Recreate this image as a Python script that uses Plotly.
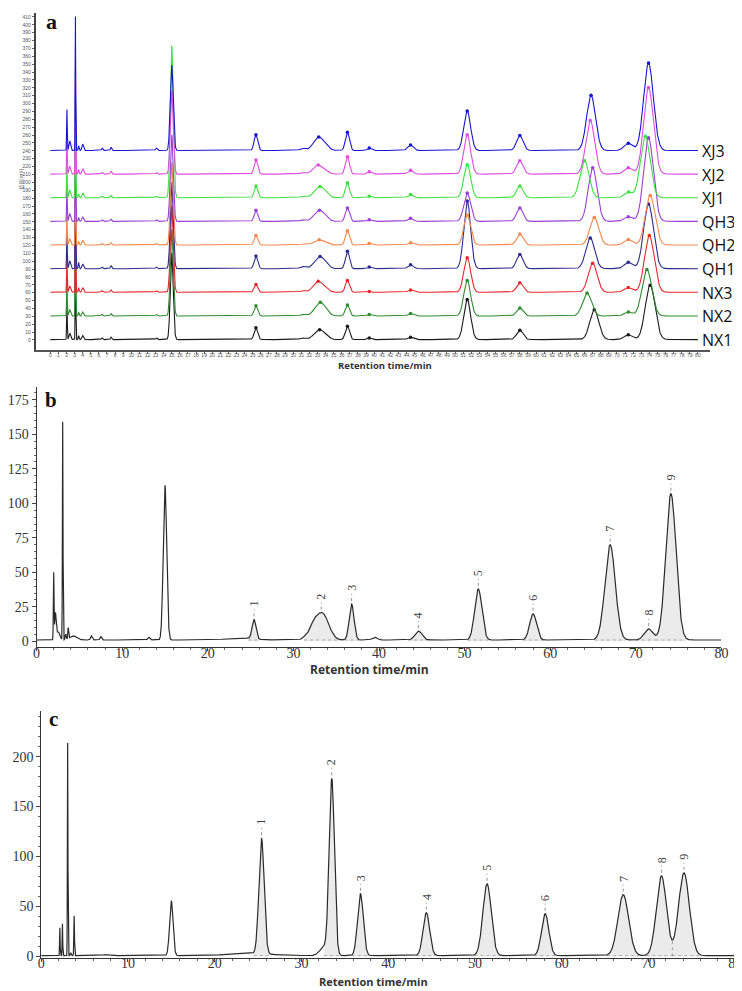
import numpy as np
import plotly.graph_objects as go

# ---------------- data ----------------
t_grid = np.round(np.arange(0, 80.0001, 0.01), 3)

# Panel a: stacked chromatograms (bottom -> top)
samples = ["NX1", "NX2", "NX3", "QH1", "QH2", "QH3", "XJ1", "XJ2", "XJ3"]
offsets = [0, 30, 60, 90, 120, 150, 180, 210, 240]
colors = ["#1a1a1a", "#2e8b2e", "#e8262a", "#2b2b8c", "#f4874b",
          "#9b3fd6", "#3ee03e", "#e04ae0", "#1515d0"]
a_rt = [2.05, 2.4, 3.1, 3.5, 4.0, 6.4, 7.5, 13.1, 15.0, 25.4, 31.2, 32.8,
        33.5, 36.7, 39.4, 44.5, 51.5, 58.0, 67.0, 71.4, 74.0]
a_wd = [0.04, 0.1, 0.03, 0.05, 0.1, 0.08, 0.08, 0.1, 0.18, 0.22, 0.35, 0.5,
        0.6, 0.25, 0.25, 0.33, 0.42, 0.4, 0.55, 0.5, 0.6]
h_NX1 = [45, 8, 160, 5, 5, 2, 3, 2, 110, 15, 2, 5, 10, 17, 2, 3, 51, 12, 38, 6, 69]
h_NX2 = [48, 8, 160, 5, 5, 2, 3, 2, 110, 13, 2, 5, 15, 14, 2, 3, 45, 10, 29, 5, 59]
h_NX3 = [45, 8, 160, 6, 6, 2, 3, 2, 110, 10, 2, 8, 9, 15, 1, 3, 44, 12, 37, 6, 72]
h_QH1 = [48, 10, 160, 8, 6, 2, 4, 2, 110, 16, 3, 5, 13, 22, 2, 5, 86, 18, 39, 8, 82]
h_QH2 = [45, 8, 160, 5, 6, 2, 3, 2, 105, 12, 1, 3, 5, 18, 2, 3, 38, 14, 35, 7, 63]
h_QH3 = [48, 10, 160, 5, 6, 2, 3, 2, 110, 14, 2, 6, 11, 17, 2, 4, 36, 17, 68, 6, 106]
h_XJ1 = [45, 10, 165, 5, 6, 2, 3, 2, 193, 15, 2, 5, 12, 19, 2, 4, 42, 15, 47, 7, 78]
h_XJ2 = [50, 10, 165, 6, 7, 2, 4, 2, 106, 18, 2, 7, 7, 22, 3, 5, 50, 17, 68, 8, 110]
h_XJ3 = [52, 12, 170, 6, 8, 3, 4, 3, 108, 20, 3, 9, 12, 23, 3, 7, 50, 19, 70, 9, 111]
a_heights = [h_NX1, h_NX2, h_NX3, h_QH1, h_QH2, h_QH3, h_XJ1, h_XJ2, h_XJ3]
rt_p7 = [67.2, 66.3, 67.0, 66.7, 67.2, 67.0, 66.0, 66.7, 66.8]
rt_p9 = [74.1, 73.7, 74.0, 73.9, 74.1, 73.9, 73.5, 73.9, 73.9]
a_marked = [9, 12, 13, 14, 15, 16, 17, 18, 19, 20]
a_xticks = list(range(0, 81))
a_yticks = list(range(0, 411, 10))

# Panel b
b_rt = [2.0, 2.2, 2.5, 3.05, 3.4, 3.7, 4.3, 6.4, 7.5, 13.1, 15.0, 25.4, 31.3,
        32.3, 33.4, 36.8, 39.5, 44.6, 51.6, 58.0, 67.0, 71.5, 74.1, 23.8]
b_ht = [48, 18, 6, 158, 4, 8, 3, 3, 2.5, 2, 112, 14, 1.5, 8, 19, 26, 2, 6.5,
        37, 19, 69, 8, 106, 1.5]
b_wd = [0.04, 0.08, 0.2, 0.035, 0.06, 0.05, 0.4, 0.1, 0.1, 0.12, 0.2, 0.22,
        0.3, 0.5, 0.72, 0.28, 0.3, 0.4, 0.42, 0.4, 0.6, 0.5, 0.6, 1.5]
b_labeled = [11, 14, 15, 17, 18, 19, 20, 21, 22]

# Panel c
c_rt = [2.15, 2.45, 3.05, 3.4, 3.8, 7.5, 15.0, 24.0, 25.4, 32.6, 33.5, 36.8,
        44.4, 51.4, 58.1, 67.1, 71.5, 74.1]
c_ht = [28, 32, 213, 3, 40, 1, 55, 2, 116, 8, 176, 62, 43, 72, 42, 61, 80, 83]
c_wd = [0.03, 0.03, 0.03, 0.05, 0.035, 0.4, 0.2, 2.5, 0.3, 0.5, 0.3, 0.33,
        0.38, 0.48, 0.42, 0.62, 0.58, 0.62]
c_labeled = [8, 10, 11, 12, 13, 14, 15, 16, 17]
peak_labels = ["1", "2", "3", "4", "5", "6", "7", "8", "9"]


def chrom(rts, hts, wds, base):
    y = np.full_like(t_grid, base, dtype=float)
    for r, h, w in zip(rts, hts, wds):
        y += h * np.exp(-0.5 * ((t_grid - r) / w) ** 2)
    return np.round(y, 3)


W, H = 742, 991


def px(x):
    return x / W


def py(y):
    return 1 - y / H


fig = go.Figure()
annotations = []
shapes = []

# ---------------- panel a ----------------
for k, name in enumerate(samples):
    rts = list(a_rt)
    rts[18] = rt_p7[k]
    rts[20] = rt_p9[k]
    y = chrom(rts, a_heights[k], a_wd, offsets[k] + 0.5)
    fig.add_trace(go.Scatter(x=t_grid, y=y, mode="lines",
                             line=dict(color=colors[k], width=1.1),
                             xaxis="x", yaxis="y", hoverinfo="skip",
                             showlegend=False))
    mx, my = [], []
    for i in a_marked:
        idx = int(round(rts[i] / 0.01))
        lo, hi = max(idx - 40, 0), min(idx + 40, len(t_grid) - 1)
        j = lo + int(np.argmax(y[lo:hi]))
        mx.append(t_grid[j])
        my.append(y[j])
    fig.add_trace(go.Scatter(x=mx, y=my, mode="markers",
                             marker=dict(color=colors[k], size=3.5),
                             xaxis="x", yaxis="y", hoverinfo="skip",
                             showlegend=False))
    annotations.append(dict(text=name, x=px(699), xref="paper", xanchor="left",
                            y=offsets[k], yref="y", yanchor="middle",
                            showarrow=False, borderpad=0,
                            font=dict(family="Open Sans", size=16, color="#111")))


def add_single(rts, hts, wds, base, labeled, xa, ya, fill_color, split_valley):
    y = chrom(rts, hts, wds, base)
    axx = "x" + xa
    axy = "y" + ya
    valley_t = None
    if split_valley:
        i8, i9 = labeled[7], labeled[8]
        lo = int(round(rts[i8] / 0.01))
        hi = int(round(rts[i9] / 0.01))
        vj = lo + int(np.argmin(y[lo:hi]))
        valley_t = t_grid[vj]
    # filled peak areas
    for n, i in enumerate(labeled):
        a0 = rts[i] - 3 * wds[i]
        a1 = rts[i] + 3 * wds[i]
        if split_valley and n == 7:
            a1 = valley_t
        if split_valley and n == 8:
            a0 = valley_t
        m = (t_grid >= a0) & (t_grid <= a1)
        fig.add_trace(go.Scatter(x=t_grid[m], y=y[m], mode="lines",
                                 line=dict(width=0, color=fill_color),
                                 fill="tozeroy", fillcolor=fill_color,
                                 xaxis=axx, yaxis=axy, hoverinfo="skip",
                                 showlegend=False))
        fig.add_trace(go.Scatter(x=[a0, a1], y=[base, base], mode="lines",
                                 line=dict(width=0.8, color="#999", dash="dot"),
                                 xaxis=axx, yaxis=axy, hoverinfo="skip",
                                 showlegend=False))
    fig.add_trace(go.Scatter(x=t_grid, y=y, mode="lines",
                             line=dict(color="#2a2a2a", width=1.2),
                             xaxis=axx, yaxis=axy, hoverinfo="skip",
                             showlegend=False))
    if split_valley:
        vj = int(round(valley_t / 0.01))
        shapes.append(dict(type="line", xref=axx, yref=axy, x0=valley_t,
                           x1=valley_t, y0=0, y1=float(y[vj]),
                           line=dict(color="#888", width=0.8, dash="dot")))
    for n, i in enumerate(labeled):
        idx = int(round(rts[i] / 0.01))
        lo, hi = idx - 60, idx + 60
        j = lo + int(np.argmax(y[lo:hi]))
        tx, ty = float(t_grid[j]), float(y[j])
        shapes.append(dict(type="line", xref=axx, yref=axy, ysizemode="pixel",
                           yanchor=ty, x0=tx, x1=tx, y0=3, y1=10,
                           line=dict(color="#777", width=0.8, dash="dot")))
        annotations.append(dict(text=peak_labels[n], x=tx, y=ty, xref=axx,
                                yref=axy, yshift=16, textangle=-90,
                                showarrow=False, xanchor="center",
                                yanchor="middle", borderpad=0,
                                font=dict(family="Liberation Serif", size=12,
                                          color="#444")))


add_single(b_rt, b_ht, b_wd, 1.0, b_labeled, "2", "2", "#ebebeb", False)
add_single(c_rt, c_ht, c_wd, 0.6, c_labeled, "3", "3", "#ebebeb", True)

serif = "Liberation Serif"
tick_serif = dict(family=serif, size=14, color="#333")

layout = dict(
    width=W, height=H, autosize=False,
    margin=dict(l=0, r=0, t=0, b=0),
    paper_bgcolor="white", plot_bgcolor="white",
    showlegend=False,
    xaxis=dict(domain=[px(21), px(708)], range=[-1.82, 81.45], anchor="y",
               tickmode="array", tickvals=a_xticks,
               ticktext=[str(v) for v in a_xticks],
               tickfont=dict(family="Liberation Sans", size=5, color="#555"),
               ticks="outside", ticklen=2, tickcolor="#666",
               ticklabelstandoff=-3,
               showline=True, linecolor="#555", linewidth=1.5,
               showgrid=False, zeroline=False),
    yaxis=dict(domain=[py(344), py(5)], range=[-12.6, 415], anchor="x",
               tickmode="array", tickvals=a_yticks,
               ticktext=[str(v) for v in a_yticks],
               tickfont=dict(family="Liberation Sans", size=5, color="#555"),
               ticks="outside", ticklen=2, tickcolor="#666",
               showline=True, linecolor="#444", linewidth=1.5,
               showgrid=False, zeroline=False),
    xaxis2=dict(domain=[px(22), px(720)], range=[0, 80], anchor="y2",
                dtick=10, tick0=0, tickfont=tick_serif,
                ticks="outside", ticklen=3, tickcolor="#444",
                ticklabelstandoff=-9,
                minor=dict(dtick=2, ticks="outside", ticklen=2, tickcolor="#666"),
                showline=True, linecolor="#333", linewidth=1,
                showgrid=False, zeroline=False),
    yaxis2=dict(domain=[py(642.5), py(381.7)], range=[-3.8, 184], anchor="x2",
                dtick=25, tick0=0, tickfont=tick_serif,
                ticks="outside", ticklen=4, tickcolor="#444",
                minor=dict(dtick=5, ticks="outside", ticklen=2, tickcolor="#666"),
                showline=True, linecolor="#333", linewidth=1,
                showgrid=False, zeroline=False),
    xaxis3=dict(domain=[px(26.7), px(734)], range=[0, 80], anchor="y3",
                dtick=10, tick0=0, tickfont=tick_serif,
                ticks="outside", ticklen=3, tickcolor="#444",
                ticklabelstandoff=-11,
                minor=dict(dtick=2, ticks="outside", ticklen=2, tickcolor="#666"),
                showline=True, linecolor="#333", linewidth=1,
                showgrid=False, zeroline=False),
    yaxis3=dict(domain=[py(956), py(707)], range=[-2, 246], anchor="x3",
                dtick=50, tick0=0, tickfont=tick_serif,
                ticks="outside", ticklen=4, tickcolor="#444",
                minor=dict(dtick=10, ticks="outside", ticklen=2, tickcolor="#666"),
                showline=True, linecolor="#333", linewidth=1,
                showgrid=False, zeroline=False),
)

# titles and panel letters
annotations += [
    dict(text="<b>Retention time/min</b>", x=px(377), y=py(360), xref="paper",
         yref="paper", showarrow=False, xanchor="center", yanchor="middle",
         borderpad=0, font=dict(family="Open Sans", size=9.5, color="#333")),
    dict(text="<b>Retention time/min</b>", x=px(361), y=py(666), xref="paper",
         yref="paper", showarrow=False, xanchor="center", yanchor="middle",
         borderpad=0, font=dict(family="Open Sans", size=12, color="#333")),
    dict(text="<b>Retention time/min</b>", x=px(365), y=py(979), xref="paper",
         yref="paper", showarrow=False, xanchor="center", yanchor="middle",
         borderpad=0, font=dict(family="Open Sans", size=11, color="#333")),
    dict(text="<b>a</b>", x=px(37), y=py(14), xref="paper", yref="paper",
         showarrow=False, xanchor="center", yanchor="middle",
         font=dict(family=serif, size=22, color="#111")),
    dict(text="<b>b</b>", x=px(37), y=py(394), xref="paper", yref="paper",
         showarrow=False, xanchor="center", yanchor="middle",
         font=dict(family=serif, size=21, color="#111")),
    dict(text="<b>c</b>", x=px(39), y=py(715), xref="paper", yref="paper",
         showarrow=False, xanchor="center", yanchor="middle",
         font=dict(family=serif, size=21, color="#111")),
    dict(text="信号[mV]", x=px(6), y=py(172), xref="paper", yref="paper",
         showarrow=False, textangle=-90, xanchor="center", yanchor="middle",
         font=dict(family="Noto Sans CJK SC", size=5, color="#555")),
]

layout["annotations"] = annotations
layout["shapes"] = shapes
fig.update_layout(**layout)
fig.write_html("out.html")
